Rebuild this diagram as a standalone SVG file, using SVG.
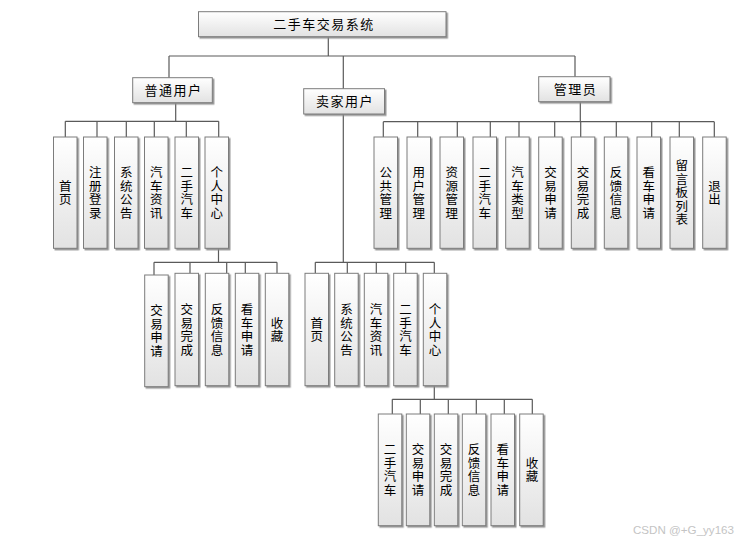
<svg xmlns="http://www.w3.org/2000/svg" width="747" height="542" viewBox="0 0 747 542">
<defs>
<linearGradient id="g" x1="0" y1="0" x2="0" y2="1">
<stop offset="0" stop-color="#ffffff"/>
<stop offset="1" stop-color="#e2e2e2"/>
</linearGradient>
<filter id="sh" x="-20%" y="-20%" width="150%" height="150%">
<feDropShadow dx="1.5" dy="1.5" stdDeviation="0.6" flood-color="#8a8a8a" flood-opacity="0.9"/>
</filter>
<style>
.box{fill:url(#g);stroke:#7c7c7c;stroke-width:1;filter:url(#sh)}
.t{font-family:"Noto Sans CJK SC","Liberation Sans",sans-serif;font-size:13px;fill:#000;text-anchor:middle}
.h{letter-spacing:1.5px}
.v{font-family:"Noto Sans CJK SC","Liberation Sans",sans-serif;font-size:12.5px;fill:#000;text-anchor:middle;writing-mode:vertical-rl;letter-spacing:1px}
.c{fill:none;stroke:#5a5a5a;stroke-width:1.2}
.wm{font-family:"Liberation Sans",Arial,sans-serif;font-size:11.6px;fill:#c4c4c4}
</style>
</defs>
<rect width="747" height="542" fill="#ffffff"/>

<g id="connectors" class="c">
<path d="M328.3 36.7V56M169 56H575M169 56V78M343.3 56V89M575 56V77"/>
<path d="M175.7 102.7V121.3M65.3 121.3H218.7M65.3 121.3V137M97 121.3V137M126.3 121.3V137M154.3 121.3V137M186.3 121.3V137M218.7 121.3V137"/>
<path d="M218.5 248.3V262.3M154 262.3H277M154 262.3V275M190 262.3V273.3M226.7 262.3V273.3M245.3 262.3V273.3M277 262.3V273.3"/>
<path d="M343.3 114V262.3M315.3 262.3H434.3M315.3 262.3V273.3M347.3 262.3V273.3M376.3 262.3V273.3M405.7 262.3V273.3M434.3 262.3V273.3"/>
<path d="M434.3 385.7V399.3M392.3 399.3H532.3M392.3 399.3V414M420.3 399.3V414M448.3 399.3V414M476.3 399.3V414M504.3 399.3V414M532.3 399.3V414"/>
<path d="M580.3 101.7V121.7M383.3 121.7H714.3M383.3 121.7V137M417.7 121.7V137M457.3 121.7V137M490.3 121.7V137M519 121.7V137M554.7 121.7V137M580.7 121.7V137M616.3 121.7V137M651.7 121.7V137M679.3 121.7V137M714.3 121.7V137"/>
</g>

<g id="root"><rect class="box" x="198.5" y="11.7" width="247.5" height="25"/><text class="t h" x="324" y="29" font-size="12">二手车交易系统</text></g>
<g id="user"><rect class="box" x="132.7" y="77.7" width="79.6" height="25"/><text class="t h" x="173.5" y="95">普通用户</text></g>
<g id="seller"><rect class="box" x="303.7" y="88.7" width="80.8" height="25.3"/><text class="t h" x="345" y="106.3">卖家用户</text></g>
<g id="admin"><rect class="box" x="538.7" y="76.7" width="71.3" height="25"/><text class="t h" x="575.5" y="94.1">管理员</text></g>

<g id="u1"><rect class="box" x="53.5" y="137" width="23.5" height="111.3"/><text class="v" x="65.3" y="193">首页</text></g>
<g id="u2"><rect class="box" x="83.5" y="137" width="23.5" height="111.3"/><text class="v" x="95.3" y="193">注册登录</text></g>
<g id="u3"><rect class="box" x="114.5" y="137" width="23.5" height="111.3"/><text class="v" x="126.3" y="193">系统公告</text></g>
<g id="u4"><rect class="box" x="144.5" y="137" width="23.5" height="111.3"/><text class="v" x="156.3" y="193">汽车资讯</text></g>
<g id="u5"><rect class="box" x="175" y="137" width="23.5" height="111.3"/><text class="v" x="186.8" y="193">二手汽车</text></g>
<g id="u6"><rect class="box" x="205" y="137" width="23.5" height="111.3"/><text class="v" x="216.8" y="193">个人中心</text></g>

<g id="u6a"><rect class="box" x="144.7" y="275" width="23.5" height="111.7"/><text class="v" x="156.5" y="331.3">交易申请</text></g>
<g id="u6b"><rect class="box" x="175" y="273.3" width="23.5" height="112.4"/><text class="v" x="186.8" y="330">交易完成</text></g>
<g id="u6c"><rect class="box" x="205.3" y="273.3" width="23.5" height="112.4"/><text class="v" x="217" y="330">反馈信息</text></g>
<g id="u6d"><rect class="box" x="235.3" y="273.3" width="23.5" height="112.4"/><text class="v" x="247" y="330">看车申请</text></g>
<g id="u6e"><rect class="box" x="265.3" y="273.3" width="23.5" height="112.4"/><text class="v" x="277" y="330">收藏</text></g>

<g id="s1"><rect class="box" x="305" y="273.3" width="23.5" height="112.4"/><text class="v" x="316.8" y="330">首页</text></g>
<g id="s2"><rect class="box" x="334.7" y="273.3" width="23.5" height="112.4"/><text class="v" x="346.5" y="330">系统公告</text></g>
<g id="s3"><rect class="box" x="364.3" y="273.3" width="23.5" height="112.4"/><text class="v" x="376" y="330">汽车资讯</text></g>
<g id="s4"><rect class="box" x="393.7" y="273.3" width="23.5" height="112.4"/><text class="v" x="405.5" y="330">二手汽车</text></g>
<g id="s5"><rect class="box" x="423.3" y="273.3" width="23.5" height="112.4"/><text class="v" x="435" y="330">个人中心</text></g>

<g id="s5a"><rect class="box" x="378.3" y="414" width="23.5" height="111.7"/><text class="v" x="390" y="470.4">二手汽车</text></g>
<g id="s5b"><rect class="box" x="406.3" y="414" width="23.5" height="111.7"/><text class="v" x="418" y="470.4">交易申请</text></g>
<g id="s5c"><rect class="box" x="434.3" y="414" width="23.5" height="111.7"/><text class="v" x="446" y="470.4">交易完成</text></g>
<g id="s5d"><rect class="box" x="462.3" y="414" width="23.5" height="111.7"/><text class="v" x="474" y="470.4">反馈信息</text></g>
<g id="s5e"><rect class="box" x="491" y="414" width="23.5" height="111.7"/><text class="v" x="502.8" y="470.4">看车申请</text></g>
<g id="s5f"><rect class="box" x="519.7" y="414" width="23.5" height="111.7"/><text class="v" x="532" y="470.4">收藏</text></g>

<g id="a1"><rect class="box" x="374" y="137" width="23.5" height="111.3"/><text class="v" x="385.8" y="193">公共管理</text></g>
<g id="a2"><rect class="box" x="407" y="137" width="23.5" height="111.3"/><text class="v" x="418.8" y="193">用户管理</text></g>
<g id="a3"><rect class="box" x="440" y="137" width="23.5" height="111.3"/><text class="v" x="451.8" y="193">资源管理</text></g>
<g id="a4"><rect class="box" x="473" y="137" width="23.5" height="111.3"/><text class="v" x="484.8" y="193">二手汽车</text></g>
<g id="a5"><rect class="box" x="505.7" y="137" width="23.5" height="111.3"/><text class="v" x="517.5" y="193">汽车类型</text></g>
<g id="a6"><rect class="box" x="538.7" y="137" width="23.5" height="111.3"/><text class="v" x="550.5" y="193">交易申请</text></g>
<g id="a7"><rect class="box" x="571.3" y="137" width="23.5" height="111.3"/><text class="v" x="583.1" y="193">交易完成</text></g>
<g id="a8"><rect class="box" x="604.3" y="137" width="23.5" height="111.3"/><text class="v" x="616.1" y="193">反馈信息</text></g>
<g id="a9"><rect class="box" x="637" y="137" width="23.5" height="111.3"/><text class="v" x="648.8" y="193">看车申请</text></g>
<g id="a10"><rect class="box" x="670" y="137" width="23.5" height="111.3"/><text class="v" x="681.8" y="193">留言板列表</text></g>
<g id="a11"><rect class="box" x="702.7" y="137" width="23.5" height="111.3"/><text class="v" x="714.5" y="193">退出</text></g>

<text class="wm" x="633" y="534">CSDN @+G_yy163</text>
</svg>
